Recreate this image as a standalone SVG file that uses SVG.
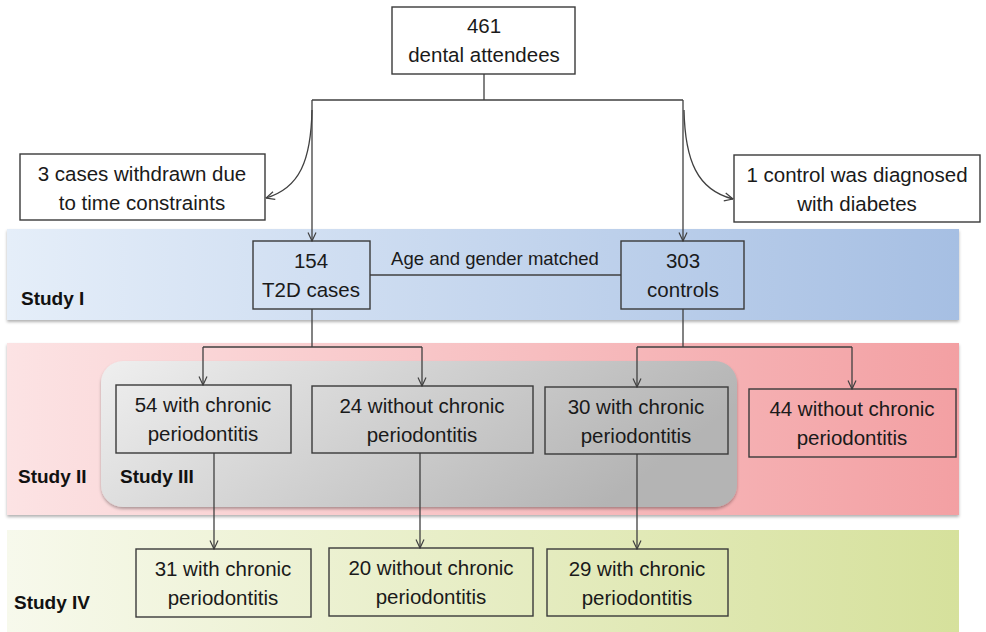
<svg xmlns="http://www.w3.org/2000/svg" width="986" height="632" viewBox="0 0 986 632">
<defs>
<style>
.box{stroke:#3a3a3a;stroke-width:1.4;}
.wbox{fill:#fff;stroke:#3a3a3a;stroke-width:1.4;}
.tbox{fill:none;stroke:#3a3a3a;stroke-width:1.4;}
.t{font-family:"Liberation Sans",Arial,sans-serif;font-size:20.5px;fill:#1a1a1a;text-anchor:middle;}
.s{font-family:"Liberation Sans",Arial,sans-serif;font-size:18.5px;fill:#1a1a1a;text-anchor:middle;}
.lab{font-family:"Liberation Sans",Arial,sans-serif;font-size:19px;font-weight:bold;fill:#111;}
.ln{fill:none;stroke:#404040;stroke-width:1.3;}
</style>
<marker id="arr" viewBox="0 0 10 10" refX="9.5" refY="5" markerWidth="10" markerHeight="10" orient="auto" markerUnits="userSpaceOnUse">
<path d="M1,1 L9.5,5 L1,9" fill="none" stroke="#404040" stroke-width="1.2"/>
</marker>
<linearGradient id="g1" x1="0" y1="0" x2="1" y2="0">
<stop offset="0" stop-color="#e5eef9"/><stop offset="1" stop-color="#a6bfe3"/>
</linearGradient>
<linearGradient id="g2" x1="0" y1="0" x2="1" y2="0">
<stop offset="0" stop-color="#fce3e4"/><stop offset="1" stop-color="#f3a0a3"/>
</linearGradient>
<linearGradient id="g3" x1="0" y1="0" x2="1" y2="0.3">
<stop offset="0" stop-color="#efefef"/><stop offset="1" stop-color="#b4b4b4"/>
</linearGradient>
<linearGradient id="g4" x1="0" y1="0" x2="1" y2="0">
<stop offset="0" stop-color="#f7f9ec"/><stop offset="1" stop-color="#d6e19c"/>
</linearGradient>
<filter id="sh" x="-5%" y="-10%" width="110%" height="130%">
<feDropShadow dx="0" dy="2" stdDeviation="1.5" flood-color="#000" flood-opacity="0.3"/>
</filter>
</defs>
<rect width="986" height="632" fill="#fff"/>

<g id="bands">
<rect id="study1" x="7" y="229" width="952" height="91" fill="url(#g1)" filter="url(#sh)"/>
<rect id="study2" x="7" y="343" width="952" height="172" fill="url(#g2)" filter="url(#sh)"/>
<rect id="study3" x="101" y="361" width="636" height="146" rx="22" fill="url(#g3)" filter="url(#sh)"/>
<rect id="study4" x="7" y="530" width="952" height="104" fill="url(#g4)"/>
<text class="lab" x="21" y="305">Study I</text>
<text class="lab" x="18" y="483">Study II</text>
<text class="lab" x="120" y="483">Study III</text>
<text class="lab" x="14" y="609">Study IV</text>
</g>

<g id="connectors">
<path class="ln" d="M484,74 V100 M312,100 H683"/>
<path class="ln" d="M312,100 V241" marker-end="url(#arr)"/>
<path class="ln" d="M683,100 V241" marker-end="url(#arr)"/>
<path class="ln" d="M312,110 C311,160 300,188 266,198" marker-end="url(#arr)"/>
<path class="ln" d="M684,110 C685,160 697,190 733,199" marker-end="url(#arr)"/>
<path class="ln" d="M370,275 H621"/>
<path class="ln" d="M312,309 V347 M203,347 H422 M683,309 V347 M637,347 H852"/>
<path class="ln" d="M203,347 V385" marker-end="url(#arr)"/>
<path class="ln" d="M422,347 V386" marker-end="url(#arr)"/>
<path class="ln" d="M637,347 V387" marker-end="url(#arr)"/>
<path class="ln" d="M852,347 V389" marker-end="url(#arr)"/>
<path class="ln" d="M214,453 V549" marker-end="url(#arr)"/>
<path class="ln" d="M420,453 V548" marker-end="url(#arr)"/>
<path class="ln" d="M637,454 V549" marker-end="url(#arr)"/>
<text class="s" x="495" y="265">Age and gender matched</text>
</g>

<g id="n-attendees">
<rect class="wbox" x="392" y="7" width="183" height="67"/>
<text class="t" x="484" y="33">461</text>
<text class="t" x="484" y="62">dental attendees</text>
</g>
<g id="n-withdrawn">
<rect class="wbox" x="20" y="154" width="245" height="66"/>
<text class="t" x="142" y="181">3 cases withdrawn due</text>
<text class="t" x="142" y="210">to time constraints</text>
</g>
<g id="n-diabetes">
<rect class="wbox" x="734" y="155" width="246" height="67"/>
<text class="t" x="857" y="182">1 control was diagnosed</text>
<text class="t" x="857" y="211">with diabetes</text>
</g>
<g id="n-cases">
<rect class="tbox" x="253" y="241" width="117" height="68"/>
<text class="t" x="311" y="268">154</text>
<text class="t" x="311" y="297">T2D cases</text>
</g>
<g id="n-controls">
<rect class="tbox" x="621" y="241" width="123" height="68"/>
<text class="t" x="683" y="268">303</text>
<text class="t" x="683" y="297">controls</text>
</g>
<g id="n-54">
<rect class="tbox" x="116" y="385" width="175" height="68"/>
<text class="t" x="203" y="412">54 with chronic</text>
<text class="t" x="203" y="441">periodontitis</text>
</g>
<g id="n-24">
<rect class="tbox" x="312" y="386" width="221" height="67"/>
<text class="t" x="422" y="413">24 without chronic</text>
<text class="t" x="422" y="442">periodontitis</text>
</g>
<g id="n-30">
<rect class="tbox" x="545" y="387" width="183" height="67"/>
<text class="t" x="636" y="414">30 with chronic</text>
<text class="t" x="636" y="443">periodontitis</text>
</g>
<g id="n-44">
<rect class="tbox" x="749" y="389" width="207" height="68"/>
<text class="t" x="852" y="416">44 without chronic</text>
<text class="t" x="852" y="445">periodontitis</text>
</g>
<g id="n-31">
<rect class="tbox" x="136" y="549" width="175" height="68"/>
<text class="t" x="223" y="576">31 with chronic</text>
<text class="t" x="223" y="605">periodontitis</text>
</g>
<g id="n-20">
<rect class="tbox" x="329" y="548" width="204" height="68"/>
<text class="t" x="431" y="575">20 without chronic</text>
<text class="t" x="431" y="604">periodontitis</text>
</g>
<g id="n-29">
<rect class="tbox" x="547" y="549" width="181" height="67"/>
<text class="t" x="637" y="576">29 with chronic</text>
<text class="t" x="637" y="605">periodontitis</text>
</g>
</svg>
